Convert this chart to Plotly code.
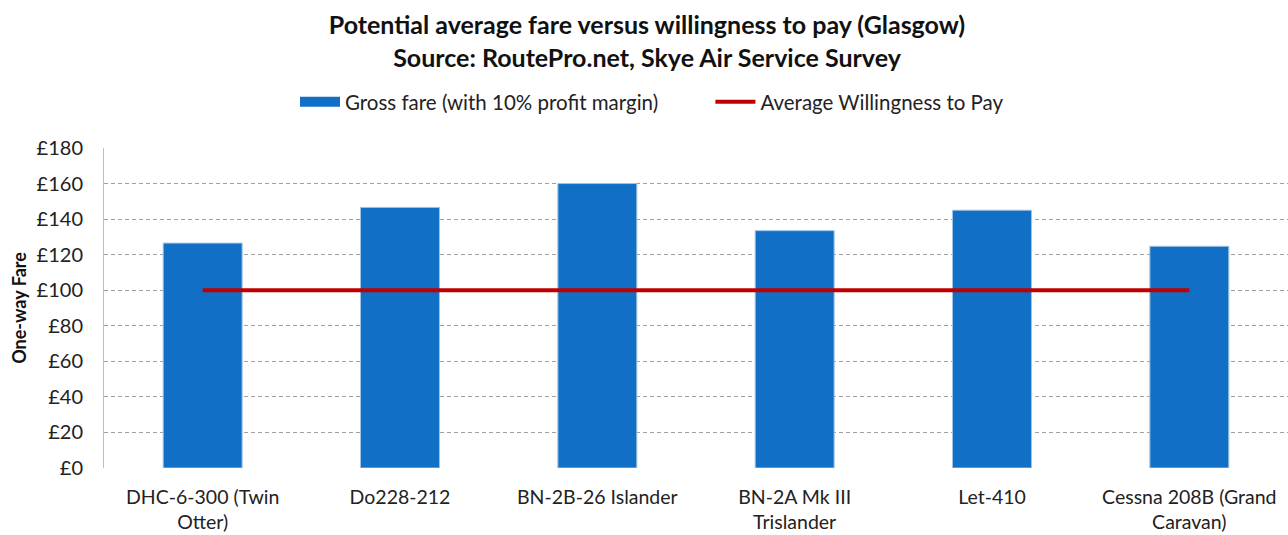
import plotly.graph_objects as go

categories = ["DHC-6-300 (Twin<br>Otter)", "Do228-212", "BN-2B-26 Islander",
              "BN-2A Mk III<br>Trislander", "Let-410", "Cessna 208B (Grand<br>Caravan)"]
gross_fare = [126.5, 146.6, 160.0, 133.5, 145.0, 124.7]
willingness = [100, 100, 100, 100, 100, 100]
y_ticks = [0, 20, 40, 60, 80, 100, 120, 140, 160, 180]
y_labels = ["£" + str(v) for v in y_ticks]

FONT = "Lato"
BLUE = "#1170C6"
RED = "#C00000"

fig = go.Figure()
fig.add_trace(go.Bar(
    x=categories, y=gross_fare, name="Gross fare (with 10% profit margin)",
    marker=dict(color=BLUE, line=dict(color="#9DC3E6", width=1)),
    width=0.4, showlegend=False,
))
# legend proxy so the bar key is drawn as a wide rectangle
fig.add_trace(go.Scatter(
    x=[None], y=[None], name="Gross fare (with 10% profit margin)" + "&nbsp;" * 9,
    mode="lines", line=dict(color=BLUE, width=13), showlegend=True,
))
fig.add_trace(go.Scatter(
    x=categories, y=willingness, name="Average Willingness to Pay",
    mode="lines", line=dict(color=RED, width=4),
))

fig.update_layout(
    width=1288, height=535, autosize=False,
    paper_bgcolor="white", plot_bgcolor="white",
    margin=dict(l=104, r=0, t=148, b=67, autoexpand=False),
    font=dict(family=FONT, size=16, color="#222222"),
    title=dict(
        text="<b>Potential average fare versus willingness to pay (Glasgow)<br>Source: RoutePro.net, Skye Air Service Survey</b>",
        x=647 / 1288, xanchor="center", xref="container",
        y=1 - 34 / 535, yanchor="middle", yref="container",
        font=dict(family=FONT, size=25, color="#111111"),
    ),
    legend=dict(
        orientation="h", x=(652 - 104) / 1184, xanchor="center",
        y=1 + (148 - 102) / 320, yanchor="middle",
        font=dict(family=FONT, size=20.5, color="#222222"),
        itemwidth=40,
    ),
    showlegend=True,
    bargap=0.6,
)
fig.update_xaxes(
    type="category", range=[-0.5, 5.5], automargin=False, tickangle=0,
    showgrid=False, showline=False, ticks="", ticklabelstandoff=15,
    tickfont=dict(family=FONT, size=19.5, color="#222222"),
)
fig.update_yaxes(
    range=[0, 180], tickvals=y_ticks, ticktext=y_labels, automargin=False,
    showgrid=True, gridcolor="#A0A0A0", griddash="4px,3px", gridwidth=1,
    zeroline=False, showline=True, linecolor="#BFBFBF", linewidth=1,
    ticks="", ticklabelstandoff=16,
    tickfont=dict(family=FONT, size=20, color="#222222"),
    title=dict(text="<b>One-way Fare</b>", font=dict(family=FONT, size=18, color="#111111"), standoff=5),
)
fig.write_html("out.html", config={"displayModeBar": False},
               post_script="document.body.style.margin='0px';")
